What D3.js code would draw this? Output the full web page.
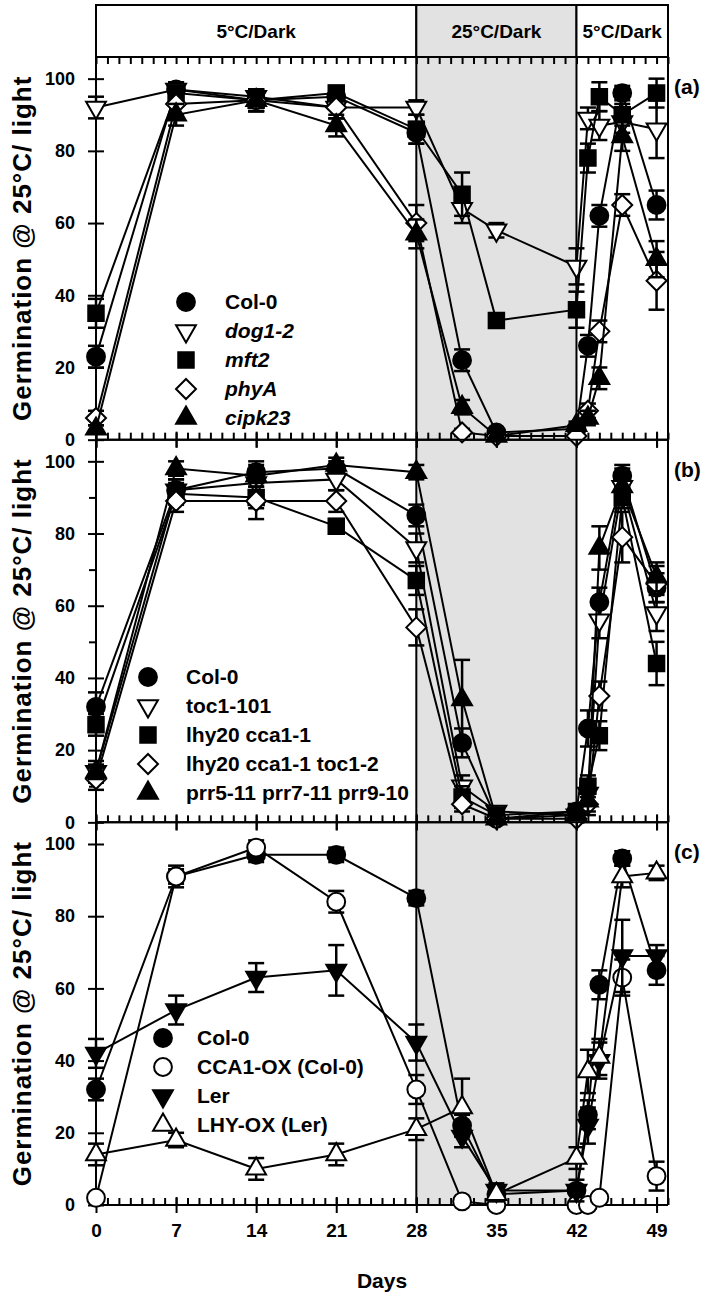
<!DOCTYPE html>
<html>
<head>
<meta charset="utf-8">
<script src="https://cdn.jsdelivr.net/npm/d3@7"></script>
<style>
body { margin: 0; background: #fff; }
text { font-family: "Liberation Sans", Arial, sans-serif; }
</style>
</head>
<body>
<script>
// sampling days (shared by every series)
var days = [0, 7, 14, 21, 28, 32, 35, 42, 43, 44, 46, 49];

// panel (a)
var namesA = ["Col-0", "dog1-2", "mft2", "phyA", "cipk23"];
var colA     = [23, 97, 94, 95, 85, 22, 2, 3, 26, 62, 96, 65];
var colAErr  = [3, 2, 3, 2, 3, 3, 1, 1, 3, 3, 2, 4];
var dog1     = [92, 97, 95, 92, 92, 64, 58, 48, 89, 87, 88, 86];
var dog1Err  = [3, 2, 2, 3, 2, 4, 2, 5, 3, 4, 3, 8];
var mft2     = [35, 96, 94, 96, 86, 68, 33, 36, 78, 95, 90, 96];
var mft2Err  = [4, 2, 3, 2, 4, 6, 2, 5, 4, 4, 3, 4];
var phyA     = [6, 93, 94, 92, 60, 2, 1, 1, 8, 30, 65, 44];
var phyAErr  = [2, 3, 3, 3, 5, 1, 1, 1, 2, 3, 3, 8];
var cipk23   = [3, 90, 94, 87, 57, 9, 1, 4, 6, 17, 84, 50];
var cipkErr  = [1, 3, 3, 3, 4, 2, 1, 1, 2, 3, 4, 5];

// panel (b)
var namesB = ["Col-0", "toc1-101", "lhy20 cca1-1", "lhy20 cca1-1 toc1-2", "prr5-11 prr7-11 prr9-10"];
var colB     = [32, 92, 97, 98, 85, 22, 1, 3, 26, 61, 96, 65];
var colBErr  = [4, 3, 3, 2, 3, 4, 1, 1, 5, 4, 3, 4];
var toc1     = [14, 92, 94, 95, 76, 10, 3, 2, 8, 56, 93, 58];
var toc1Err  = [3, 3, 3, 3, 4, 3, 1, 1, 3, 5, 4, 5];
var lhy      = [27, 91, 90, 82, 67, 7, 2, 3, 10, 24, 90, 44];
var lhyErr   = [3, 3, 3, 2, 4, 3, 1, 2, 3, 4, 3, 6];
var lhyToc   = [12, 89, 89, 89, 54, 5, 1, 1, 5, 35, 79, 66];
var lhyTocErr = [3, 3, 5, 3, 5, 2, 1, 1, 3, 4, 7, 5];
var prr      = [14, 98, 96, 99, 97, 34, 1, 2, 6, 76, 93, 68];
var prrErr   = [2, 2, 3, 2, 2, 11, 1, 1, 3, 6, 5, 4];

// panel (c)
var namesC = ["Col-0", "CCA1-OX (Col-0)", "Ler", "LHY-OX (Ler)"];
var colC     = [32, 91, 97, 97, 85, 22, 3, 4, 25, 61, 96, 65];
var colCErr  = [3, 2, 2, 2, 2, 3, 1, 1, 4, 4, 2, 4];
var ccaOx    = [2, 91, 99, 84, 32, 1, 0, 0, 0, 2, 63, 8];
var ccaOxErr = [1, 3, 2, 3, 4, 1, 0, 0, 0, 1, 5, 4];
var ler      = [42, 54, 63, 65, 45, 19, 4, 4, 22, 40, 69, 69];
var lerErr   = [4, 4, 4, 7, 5, 3, 2, 3, 5, 5, 10, 3];
var lhyOx    = [14, 18, 10, 14, 21, 27, 3, 13, 37, 41, 91, 92];
var lhyOxErr = [3, 2, 3, 3, 3, 8, 2, 3, 6, 5, 3, 2];

// header periods
var periods = [
  {from: 0, to: 28, label: "5°C/Dark"},
  {from: 28, to: 42, label: "25°C/Dark"},
  {from: 42, to: 50, label: "5°C/Dark"}
];

var W = 709, H = 1298;
var svg = d3.select("body").append("svg").attr("width", W).attr("height", H);

var x = d3.scaleLinear().domain([0, 50]).range([96, 668]);
var headTop = 5, plotTop = 57, plotBot = 1205;
var panelH = (plotBot - plotTop) / 3;
var shade = "#e2e2e2";

// marker shapes
function shapePath(kind) {
  if (kind == "circle") return d3.symbol(d3.symbolCircle, 250)();
  if (kind == "square") return d3.symbol(d3.symbolSquare, 240)();
  if (kind == "diamond") return "M0,-10L10,0L0,10L-10,0Z";
  return d3.symbol(d3.symbolTriangle, 170)();
}
function shapeRot(kind) { return kind == "down" ? 180 : 0; }

var panels = [
  {label: "(a)", italic: true, legendX: 186, legendTextX: 225, legendY: 302, series: [
    {name: namesA[0], v: colA, e: colAErr, kind: "circle", fill: "#000"},
    {name: namesA[1], v: dog1, e: dog1Err, kind: "down", fill: "#fff"},
    {name: namesA[2], v: mft2, e: mft2Err, kind: "square", fill: "#000"},
    {name: namesA[3], v: phyA, e: phyAErr, kind: "diamond", fill: "#fff"},
    {name: namesA[4], v: cipk23, e: cipkErr, kind: "up", fill: "#000"}
  ], minorY: false},
  {label: "(b)", italic: false, legendX: 148, legendTextX: 186, legendY: 677, series: [
    {name: namesB[0], v: colB, e: colBErr, kind: "circle", fill: "#000"},
    {name: namesB[1], v: toc1, e: toc1Err, kind: "down", fill: "#fff"},
    {name: namesB[2], v: lhy, e: lhyErr, kind: "square", fill: "#000"},
    {name: namesB[3], v: lhyToc, e: lhyTocErr, kind: "diamond", fill: "#fff"},
    {name: namesB[4], v: prr, e: prrErr, kind: "up", fill: "#000"}
  ], minorY: true},
  {label: "(c)", italic: false, legendX: 163, legendTextX: 197, legendY: 1038, series: [
    {name: namesC[0], v: colC, e: colCErr, kind: "circle", fill: "#000"},
    {name: namesC[1], v: ccaOx, e: ccaOxErr, kind: "circle", fill: "#fff"},
    {name: namesC[2], v: ler, e: lerErr, kind: "down", fill: "#000"},
    {name: namesC[3], v: lhyOx, e: lhyOxErr, kind: "up", fill: "#fff"}
  ], minorY: false}
];

// shaded 25°C period behind the plots
svg.append("rect")
  .attr("x", x(28)).attr("y", plotTop)
  .attr("width", x(42) - x(28)).attr("height", plotBot - plotTop)
  .attr("fill", shade);

// header boxes
var head = svg.append("g");
periods.forEach(function (p) {
  head.append("rect")
    .attr("x", x(p.from)).attr("y", headTop)
    .attr("width", x(p.to) - x(p.from)).attr("height", plotTop - headTop)
    .attr("fill", p.from == 28 ? shade : "#fff")
    .attr("stroke", "#000").attr("stroke-width", 2);
  head.append("text")
    .attr("x", (x(p.from) + x(p.to)) / 2).attr("y", (headTop + plotTop) / 2 + 7)
    .attr("text-anchor", "middle").attr("font-size", 19).attr("font-weight", "bold")
    .text(p.label);
});

function styleAxis(g) {
  g.select(".domain").remove();
  g.selectAll(".tick line").attr("stroke", "#000").attr("stroke-width", 2);
  g.selectAll(".tick text").attr("fill", "#000").attr("font-weight", "bold")
    .attr("font-size", 18).attr("font-family", "Liberation Sans, Arial, sans-serif");
}

panels.forEach(function (p, i) {
  var top = plotTop + i * panelH, bot = top + panelH;
  var y = d3.scaleLinear().domain([0, 106]).range([bot, top]);
  var g = svg.append("g");

  // bottom axis: minor ticks inward, major ticks crossing
  g.append("g").attr("transform", "translate(0," + bot + ")")
    .call(d3.axisBottom(x).tickValues(d3.range(0, 51)).tickSize(-7).tickFormat(""))
    .call(styleAxis);
  var major = g.append("g").attr("transform", "translate(0," + bot + ")")
    .call(d3.axisBottom(x).tickValues(d3.range(0, 50, 7)).tickSize(8).tickPadding(11)
      .tickFormat(i == 2 ? d3.format("d") : ""))
    .call(styleAxis);
  major.selectAll(".tick line").attr("y1", -8);
  major.selectAll(".tick text").attr("font-size", 19);

  // top axis
  if (i == 0) {
    g.append("g").attr("transform", "translate(0," + top + ")")
      .call(d3.axisTop(x).tickValues(d3.range(0, 51)).tickSize(-7).tickFormat(""))
      .call(styleAxis);
  } else {
    g.append("g").attr("transform", "translate(0," + top + ")")
      .call(d3.axisTop(x).tickValues(d3.range(0, 50, 7)).tickSize(-8).tickFormat(""))
      .call(styleAxis);
  }

  // left axis
  var ya = g.append("g").attr("transform", "translate(" + x(0) + ",0)")
    .call(d3.axisLeft(y).tickValues([0, 20, 40, 60, 80, 100]).tickSize(8).tickPadding(13))
    .call(styleAxis);
  ya.selectAll(".tick line").attr("x2", -8).attr("x1", 8);
  if (p.minorY) {
    g.append("g").attr("transform", "translate(" + x(0) + ",0)")
      .call(d3.axisLeft(y).tickValues([10, 30, 50, 70, 90]).tickSize(7).tickFormat(""))
      .call(styleAxis);
  }

  // frame lines
  [0, 28, 42, 50].forEach(function (d) {
    g.append("line").attr("x1", x(d)).attr("x2", x(d)).attr("y1", top).attr("y2", bot)
      .attr("stroke", "#000").attr("stroke-width", 2);
  });
  [top, bot].forEach(function (yy) {
    g.append("line").attr("x1", x(0)).attr("x2", x(50)).attr("y1", yy).attr("y2", yy)
      .attr("stroke", "#000").attr("stroke-width", 2);
  });

  // y title
  g.append("text")
    .attr("transform", "translate(31," + (top + bot) / 2 + ") rotate(-90)")
    .attr("text-anchor", "middle").attr("font-size", 26).attr("font-weight", "bold")
    .attr("letter-spacing", 1)
    .text("Germination @ 25°C/ light");

  // panel label
  g.append("text").attr("x", 674).attr("y", top + 37)
    .attr("font-size", 21).attr("font-weight", "bold").text(p.label);

  var line = d3.line().x(function (d) { return x(d.day); }).y(function (d) { return y(d.v); });

  p.series.forEach(function (s) {
    var pts = days.map(function (d, k) { return {day: d, v: s.v[k], e: s.e[k]}; });
    g.append("path").datum(pts).attr("d", line)
      .attr("fill", "none").attr("stroke", "#000").attr("stroke-width", 2);

    var eb = g.append("g").attr("stroke", "#000").attr("stroke-width", 2.5);
    pts.forEach(function (d) {
      if (d.e <= 0) return;
      var y0 = y(Math.max(0, d.v - d.e)), y1 = y(d.v + d.e), cx = x(d.day);
      eb.append("line").attr("x1", cx).attr("x2", cx).attr("y1", y0).attr("y2", y1);
      eb.append("line").attr("x1", cx - 8).attr("x2", cx + 8).attr("y1", y0).attr("y2", y0);
      eb.append("line").attr("x1", cx - 8).attr("x2", cx + 8).attr("y1", y1).attr("y2", y1);
    });

    g.append("g").selectAll("path").data(pts).enter().append("path")
      .attr("d", shapePath(s.kind))
      .attr("transform", function (d) {
        return "translate(" + x(d.day) + "," + y(d.v) + ") rotate(" + shapeRot(s.kind) + ")";
      })
      .attr("fill", s.fill).attr("stroke", "#000").attr("stroke-width", 2);
  });

  // legend
  p.series.forEach(function (s, k) {
    var ly = p.legendY + k * 29;
    g.append("path").attr("d", shapePath(s.kind))
      .attr("transform", "translate(" + p.legendX + "," + ly + ") rotate(" + shapeRot(s.kind) + ")")
      .attr("fill", s.fill).attr("stroke", "#000").attr("stroke-width", 2);
    g.append("text").attr("x", p.legendTextX).attr("y", ly + 7)
      .attr("font-size", 21).attr("font-weight", "bold")
      .attr("font-style", p.italic && k > 0 ? "italic" : "normal")
      .text(s.name);
  });
});

// x title
svg.append("text").attr("x", (x(0) + x(50)) / 2).attr("y", 1288)
  .attr("text-anchor", "middle").attr("font-size", 21).attr("font-weight", "bold")
  .text("Days");
</script>
</body>
</html>
